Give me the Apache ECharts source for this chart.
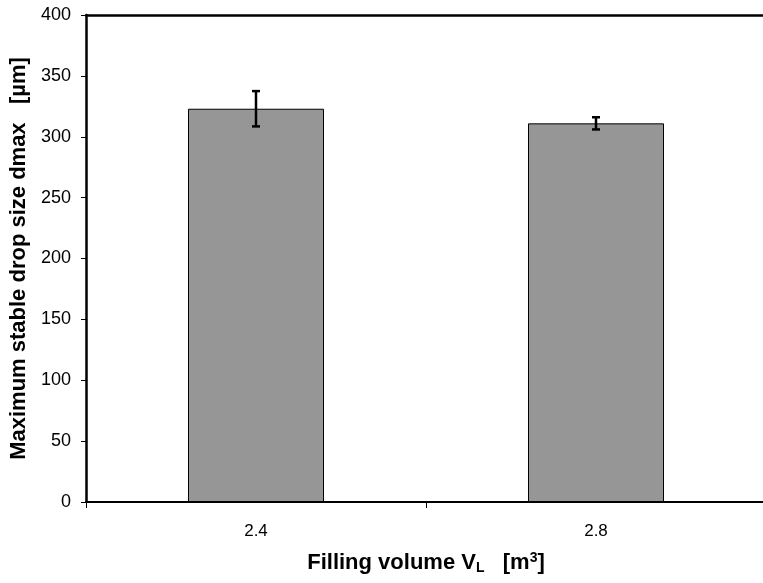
<!DOCTYPE html>
<html>
<head>
<meta charset="utf-8">
<script src="https://cdn.jsdelivr.net/npm/echarts@6/dist/echarts.min.js"></script>
<style>html,body{margin:0;padding:0;background:#fff;overflow:hidden;}#c{width:763px;height:583px;}</style>
</head>
<body>
<div id="c"></div>
<script>
const categories = ['2.4', '2.8'];
const dmaxValues = [323, 311];
const errLow = [308.5, 306];
const errHigh = [337.5, 316];
const yTicks = [0, 50, 100, 150, 200, 250, 300, 350, 400];

const chart = echarts.init(document.getElementById('c'), null, {renderer: 'canvas'});
const font = 'Liberation Sans, Arial, sans-serif';
chart.setOption({
  animation: false,
  backgroundColor: '#fff',
  grid: {left: 86, top: 15, width: 680, height: 487, show: false, outerBoundsMode: 'none', containLabel: false},
  xAxis: [{
    type: 'category',
    data: categories,
    axisLine: {lineStyle: {color: '#000', width: 2}},
    axisTick: {show: true, length: 6, lineStyle: {color: '#000', width: 1}},
    axisLabel: {color: '#000', fontSize: 17, fontFamily: font, margin: 21},
    name: 'Filling volume V{sub|L}   [m{sup|3}]',
    nameLocation: 'middle',
    nameGap: 49,
    nameTextStyle: {
      color: '#000', fontSize: 22, fontWeight: 'bold', fontFamily: font,
      rich: {
        sub: {fontSize: 14, fontWeight: 'bold', fontFamily: font, color: '#000', verticalAlign: 'bottom', padding: [10, 0, 0, 0]},
        sup: {fontSize: 14, fontWeight: 'bold', fontFamily: font, color: '#000', verticalAlign: 'top', padding: [0, 0, 10, 0]}
      }
    }
  }, {
    type: 'category',
    position: 'top',
    data: categories,
    axisLine: {show: true, lineStyle: {color: '#000', width: 2.5}},
    axisTick: {show: false},
    axisLabel: {show: false}
  }],
  yAxis: {
    type: 'value',
    min: yTicks[0],
    max: yTicks[yTicks.length - 1],
    interval: 50,
    splitLine: {show: false},
    axisLine: {show: true, lineStyle: {color: '#000', width: 2.5}},
    axisTick: {show: true, length: 5, lineStyle: {color: '#000', width: 1}},
    axisLabel: {color: '#000', fontSize: 18, fontFamily: font, margin: 15},
    name: 'Maximum stable drop size dmax   [µm]',
    nameLocation: 'middle',
    nameRotate: 90,
    nameGap: 54,
    nameTextStyle: {color: '#000', fontSize: 22, fontWeight: 'bold', fontFamily: font}
  },
  series: [
    {
      type: 'bar',
      data: dmaxValues,
      barWidth: '40%',
      itemStyle: {color: '#969696', borderColor: '#000', borderWidth: 1}
    },
    {
      type: 'custom',
      data: categories.map((c, i) => [i, errLow[i], errHigh[i]]),
      z: 10,
      renderItem: function (params, api) {
        const lo = api.coord([api.value(0), api.value(1)]);
        const hi = api.coord([api.value(0), api.value(2)]);
        const hw = 4;
        const style = {stroke: '#000', lineWidth: 2.5};
        return {
          type: 'group',
          children: [
            {type: 'line', shape: {x1: hi[0], y1: hi[1], x2: lo[0], y2: lo[1]}, style: style},
            {type: 'line', shape: {x1: hi[0] - hw, y1: hi[1], x2: hi[0] + hw, y2: hi[1]}, style: style},
            {type: 'line', shape: {x1: lo[0] - hw, y1: lo[1], x2: lo[0] + hw, y2: lo[1]}, style: style}
          ]
        };
      }
    }
  ]
});
</script>
</body>
</html>
